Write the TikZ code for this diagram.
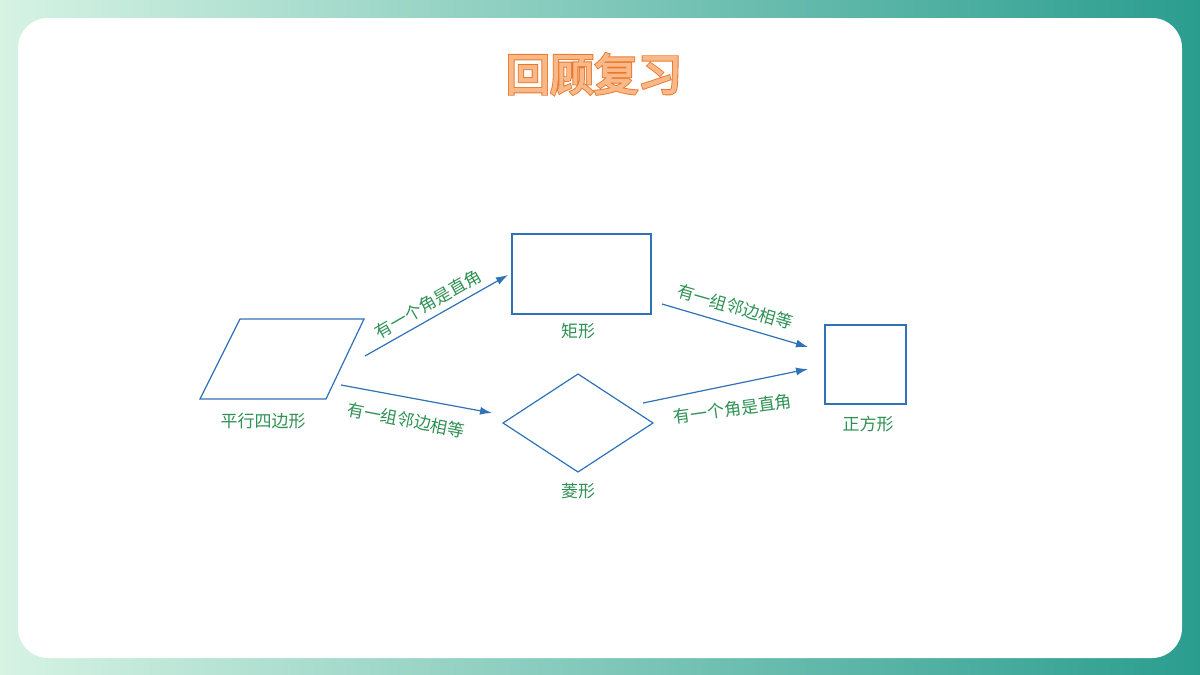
\documentclass[tikz,border=0pt]{standalone}
\usepackage{fontspec}
\newfontfamily\cjk{Noto Sans CJK SC}
\newfontfamily\cjkbold[FakeBold=3]{Noto Sans CJK SC}
\newfontfamily\cjkfat[FakeBold=7]{Noto Sans CJK SC}
\usetikzlibrary{arrows.meta}
\definecolor{bgA}{HTML}{D6F3E4}
\definecolor{bgB}{HTML}{2A9D8F}
\definecolor{shp}{HTML}{2F72B8}
\definecolor{lbl}{HTML}{2E9153}
\definecolor{ttlA}{HTML}{E9782E}
\definecolor{ttlB}{HTML}{F9B888}
\tikzset{
 figline/.style={draw=shp,line width=1.2pt},
 conn/.style={draw=shp,line width=1.2pt,-{Latex[length=12pt,width=8pt]}},
 lab/.style={text=lbl,font=\cjk\fontsize{17}{17}\selectfont,inner sep=1pt},
}
\begin{document}
\begin{tikzpicture}[x=1pt,y=-1pt]
\useasboundingbox (0,0) rectangle (1200,675);
\shade[left color=bgA,right color=bgB] (0,0) rectangle (1200,675);
\fill[white,rounded corners=30pt] (18,18) rectangle (1182,658);
% title
\node[text=ttlA,font=\cjkfat\fontsize{44}{44}\selectfont] (t0) at (594,74) {回顾复习};
\node[text=ttlB,font=\cjkbold\fontsize{44}{44}\selectfont] (t) at (594,74) {回顾复习};
% shapes
\draw[figline] (240,319)--(364,319)--(326,399)--(200,399)--cycle;
\draw[figline] (512,234) rectangle (651,314);
\draw[figline] (503,423)--(578,374)--(653,423)--(578,472)--cycle;
\draw[figline] (825,325) rectangle (906,404);
\node[lab] (p) at (263,421) {平行四边形};
\node[lab] (r) at (578,331) {矩形};
\node[lab] (h) at (578,491) {菱形};
\node[lab] (s) at (868,424) {正方形};
% connectors
\coordinate (a1) at (365,356); \coordinate (b1) at (508,275);
\coordinate (a2) at (341,385); \coordinate (b2) at (492,413);
\coordinate (a3) at (662,304); \coordinate (b3) at (808,347);
\coordinate (a4) at (643,403); \coordinate (b4) at (808,369);
\draw[conn] (a1)--(b1);
\draw[conn] (a2)--(b2);
\draw[conn] (a3)--(b3);
\draw[conn] (a4)--(b4);
\node[lab,rotate=30] (l1) at (428,304) {有一个角是直角};
\node[lab,rotate=-11] (l2) at (406,420) {有一组邻边相等};
\node[lab,rotate=-16] (l3) at (735,307) {有一组邻边相等};
\node[lab,rotate=8] (l4) at (733,409) {有一个角是直角};
\end{tikzpicture}
\end{document}
